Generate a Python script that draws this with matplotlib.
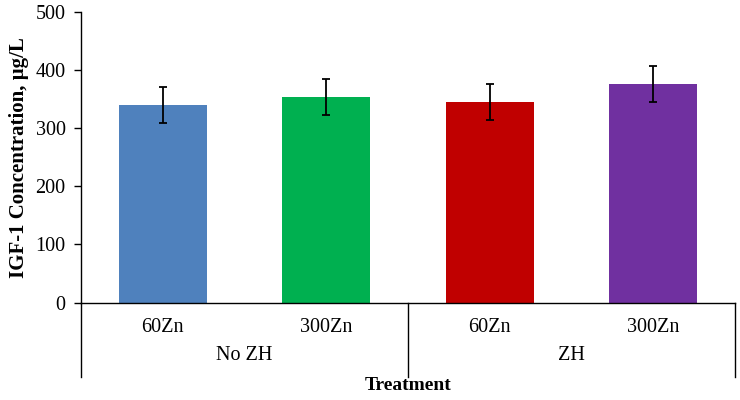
import matplotlib
matplotlib.use("Agg")
import matplotlib.pyplot as plt
import matplotlib.transforms as mtransforms

categories = ["60Zn", "300Zn", "60Zn", "300Zn"]
groups = ["No ZH", "ZH"]
values = [341, 354, 345, 376]
errors = [31, 31, 31, 31]
colors = ["#4F81BD", "#00B050", "#C00000", "#7030A0"]
yticks = [0, 100, 200, 300, 400, 500]

plt.rcParams['font.family'] = ['Liberation Serif', 'DejaVu Serif']

fig = plt.figure(figsize=(7.4, 4.0), dpi=100)
W, H = 740, 400
left, right, bottom, top = 81, 735, 302.5, 12.3
ax = fig.add_axes([left / W, 1 - bottom / H, (right - left) / W, (bottom - top) / H])

x = list(range(len(values)))
ax.bar(x, values, width=0.54, color=colors, zorder=2)
ax.errorbar(x, values, yerr=errors, fmt='none', ecolor='black', elinewidth=1.3,
            capsize=3, capthick=1.3, zorder=3)

fs = 14.5
ax.set_xlim(-0.5, len(values) - 0.5)
ax.set_ylim(0, 500)
ax.set_yticks(yticks)
ax.set_yticklabels([str(t) for t in yticks], fontsize=fs)
ax.tick_params(axis='y', direction='out', length=5, width=1, pad=6)
ax.set_xticks([])
for s in ['top', 'right']:
    ax.spines[s].set_visible(False)
ax.spines['bottom'].set_linewidth(1)
ax.spines['left'].set_linewidth(1)

# category axis extension
depth = (377 - bottom) / (bottom - top)
trans = mtransforms.blended_transform_factory(ax.transData, ax.transAxes)
for xv in [-0.5, 1.5, len(values) - 0.5]:
    ax.plot([xv, xv], [0, -depth], transform=trans, color='black', lw=1,
            clip_on=False)

y_cat = -(327 - bottom) / (bottom - top)
y_grp = -(356 - bottom) / (bottom - top)
for xi, lab in zip(x, categories):
    ax.text(xi, y_cat, lab, transform=trans, ha='center', va='center', fontsize=fs)
for gi, g in enumerate(groups):
    ax.text(0.5 + 2 * gi, y_grp, g, transform=trans, ha='center', va='center', fontsize=fs)

y_ttl = -(386 - bottom) / (bottom - top)
ax.text(0.5, y_ttl, "Treatment", transform=ax.transAxes, ha='center', va='center',
        fontsize=14, fontweight='bold')

ax.set_ylabel("IGF-1 Concentration, µg/L", fontsize=15, fontweight='bold')
ax.yaxis.set_label_coords(-(81 - 29) / 654, 0.5)

fig.savefig("out.png", dpi=100)
